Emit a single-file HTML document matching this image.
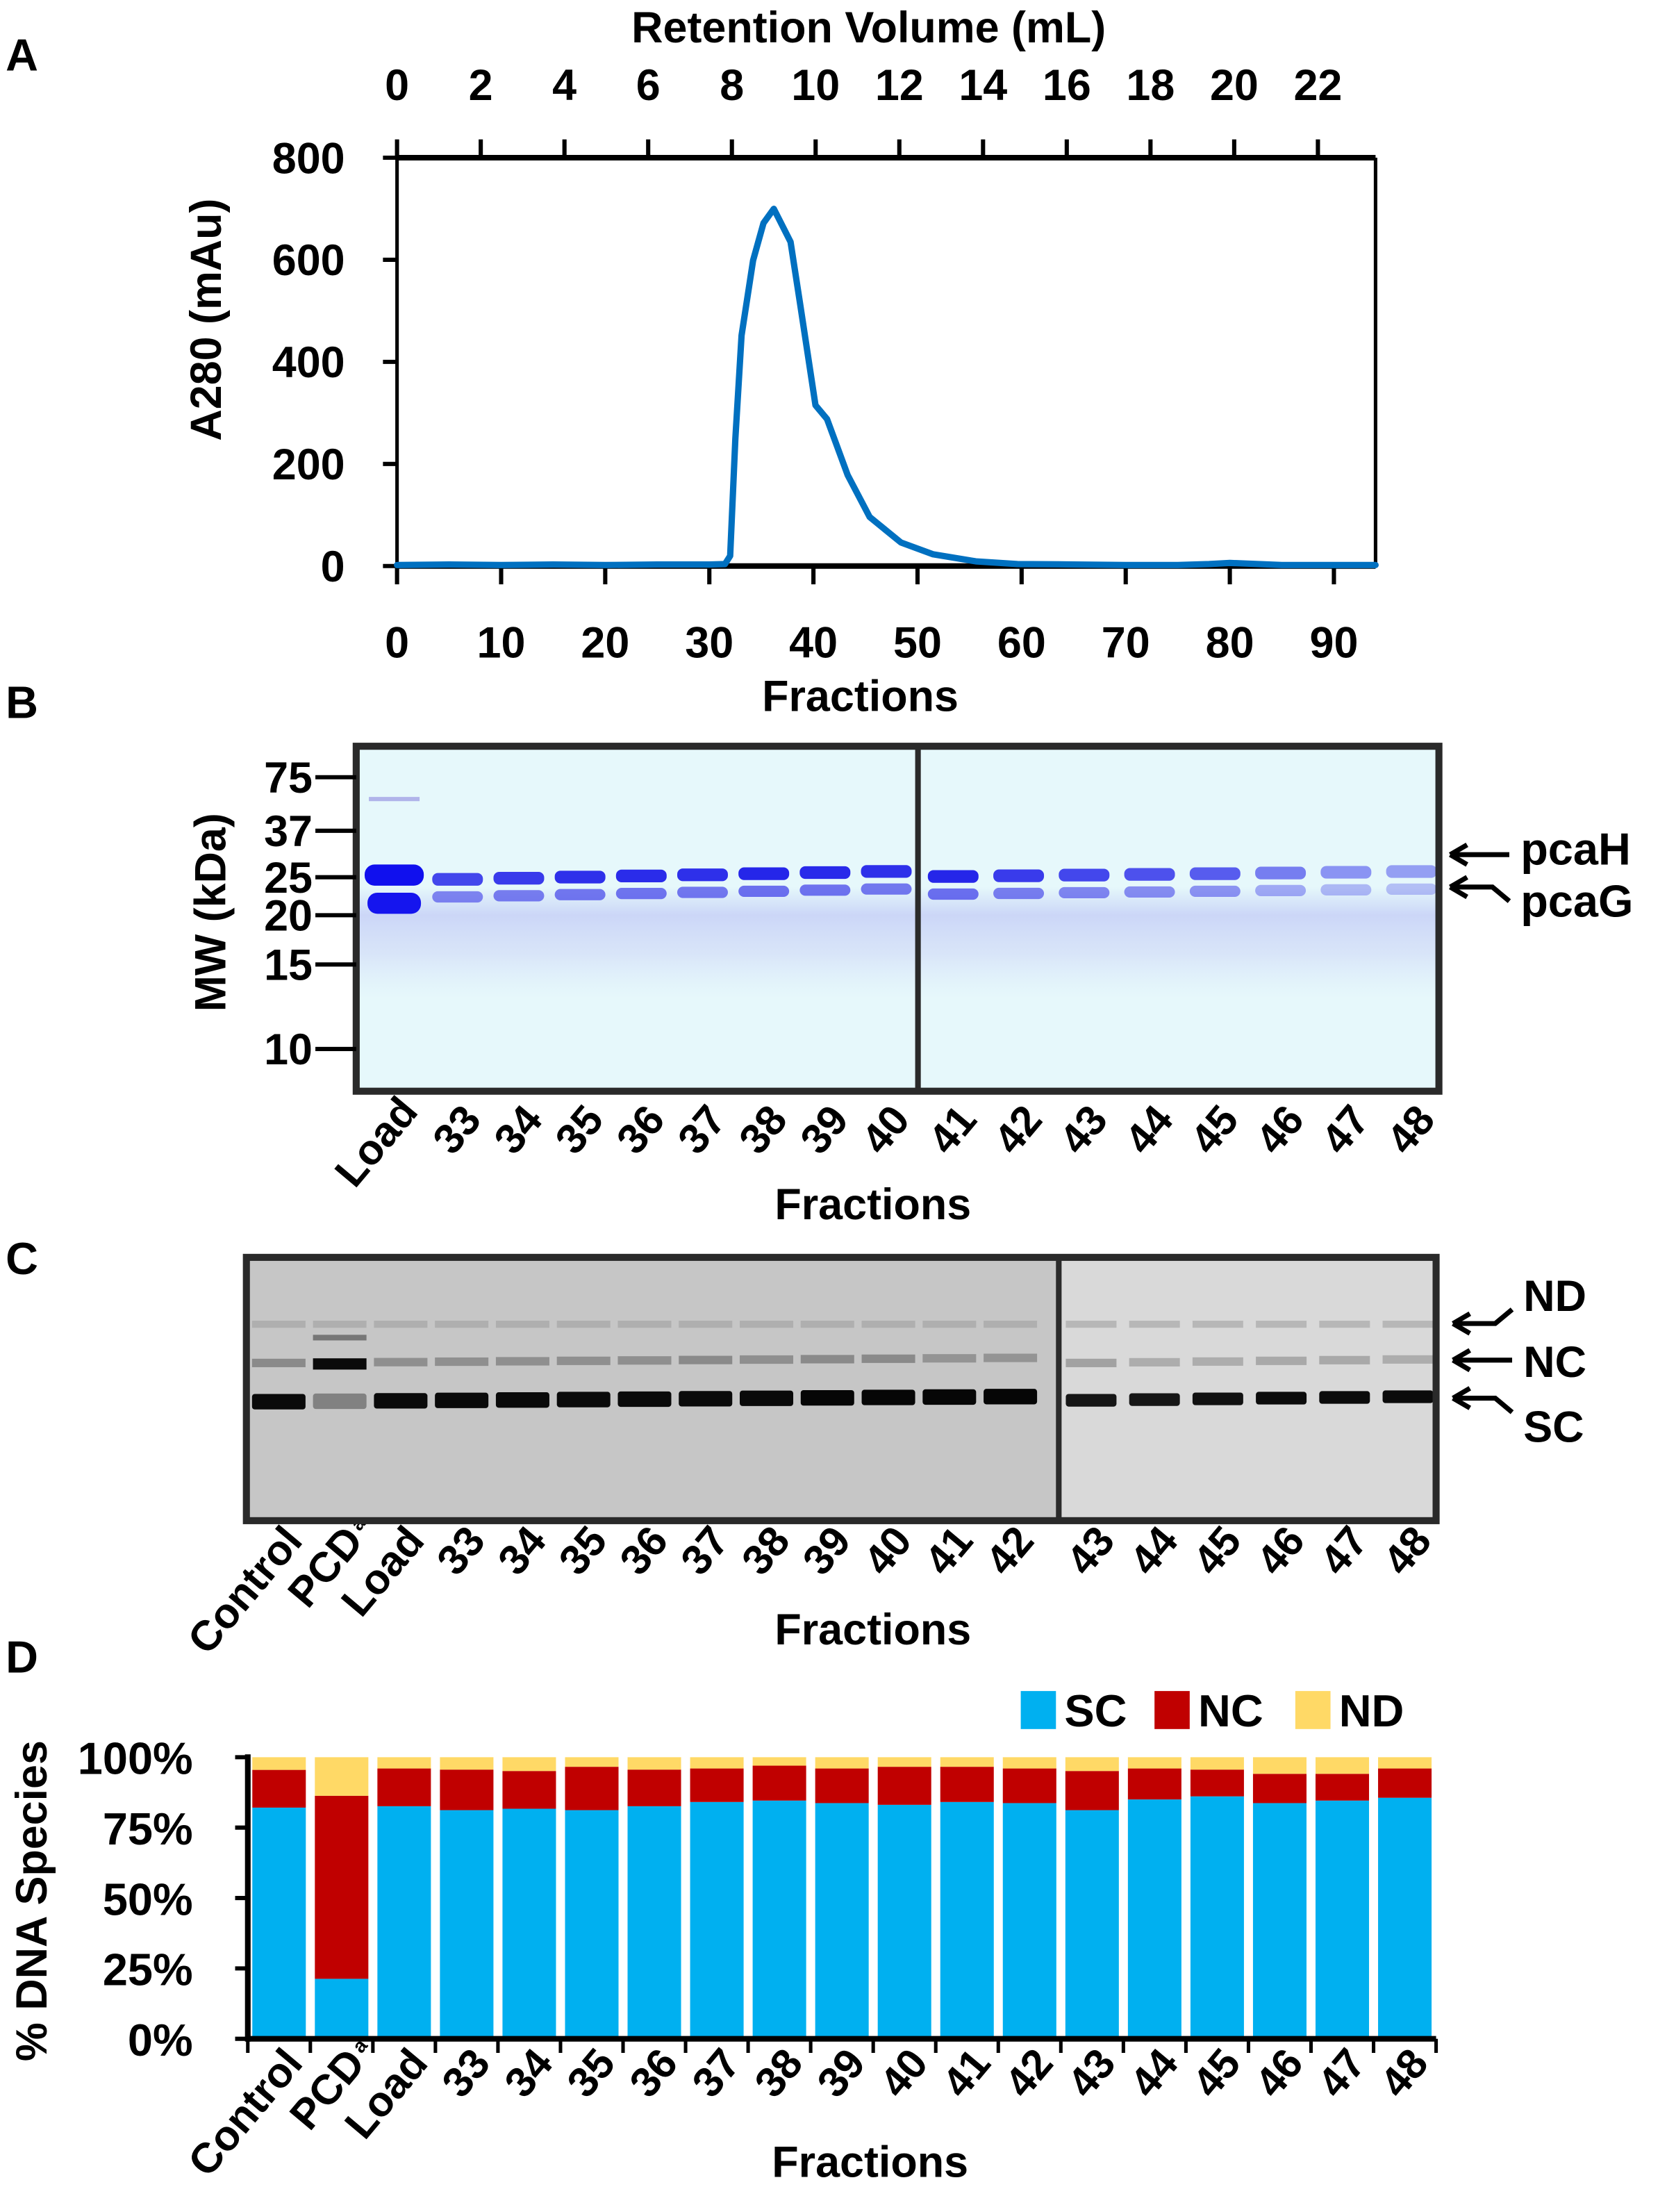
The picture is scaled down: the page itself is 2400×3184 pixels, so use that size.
<!DOCTYPE html>
<html><head><meta charset="utf-8"><style>
html,body{margin:0;padding:0;background:#fff}
svg{display:block}
text{font-family:"Liberation Sans Narrow","Liberation Sans",sans-serif;font-weight:bold;fill:#000}
</style></head><body>
<svg id="fig" width="2400" height="3184" viewBox="0 0 1184 1571" preserveAspectRatio="none" xmlns="http://www.w3.org/2000/svg">
<defs>
<linearGradient id="smearB" x1="0" y1="0" x2="0" y2="1">
<stop offset="0" stop-color="#9094f0" stop-opacity="0.0"/><stop offset="0.25" stop-color="#9a98f0" stop-opacity="0.35"/><stop offset="0.6" stop-color="#b0acf2" stop-opacity="0.25"/><stop offset="1" stop-color="#c8d0f6" stop-opacity="0"/></linearGradient>
</defs>
<text x="4" y="50" font-size="32" style="font-family:'Liberation Sans',sans-serif">A</text>
<text x="4" y="510" font-size="32" style="font-family:'Liberation Sans',sans-serif">B</text>
<text x="4" y="905" font-size="32" style="font-family:'Liberation Sans',sans-serif">C</text>
<text x="4" y="1188" font-size="32" style="font-family:'Liberation Sans',sans-serif">D</text>
<g id="pA"></g>
<g id="pB"></g>
<g id="pC"></g>
<g id="pD"></g>
</svg>
<script>
// ===== Panel A data =====
const fracX = [0,5,10,15,20,25,30,31.5,32,32.5,33.1,34.2,35.2,36.2,37.8,38.7,40.2,41.3,43.3,45.4,48.4,51.5,55.6,59.6,65,70,75,78,80,85,90,94];
const a280 = [2,3,2,3,2,3,3,4,20,250,452,599,672,700,635,517,315,288,178,96,46,23,9,4,3,2,2,4,6,2,2,2];
const mlTicks = [0,2,4,6,8,10,12,14,16,18,20,22];
const fracTicks = [0,10,20,30,40,50,60,70,80,90];
const aYTicks = [0,200,400,600,800];
// ===== Panel D data =====
const dCats = ["Control","PCDa","Load","33","34","35","36","37","38","39","40","41","42","43","44","45","46","47","48"];
const scVals = [82.1,21.3,82.6,81.2,81.7,81.2,82.6,84.1,84.6,83.7,83.1,84.1,83.7,81.2,85.0,86.1,83.7,84.6,85.6];
const ncVals = [13.4,65.0,13.4,14.4,13.4,15.4,13.0,11.9,12.4,12.3,13.5,12.5,12.3,13.9,11.0,9.5,10.4,9.5,10.4];
const ndVals = [4.5,13.7,4.0,4.4,4.9,3.4,4.4,4.0,3.0,4.0,3.4,3.4,4.0,4.9,4.0,4.4,5.9,5.9,4.0];
const dTicks = ["0%","25%","50%","75%","100%"];
const dTickVals = [0,25,50,75,100];
// ===== Gel lane labels =====
const gelBLanes = ["Load","33","34","35","36","37","38","39","40","41","42","43","44","45","46","47","48"];
const gelBUpper = [1.0,0.8,0.85,0.9,0.92,0.9,0.95,0.93,0.9,0.95,0.85,0.8,0.75,0.7,0.55,0.45,0.4];
const gelCLanes = ["Control","PCDa","Load","33","34","35","36","37","38","39","40","41","42","43","44","45","46","47","48"];
const gelCSC = [0.95,0.35,0.95,0.95,0.95,0.95,0.95,0.95,0.95,0.97,0.97,0.97,0.97,0.9,0.9,0.92,0.95,0.95,0.95];
const gelCNC = [0.3,0.95,0.28,0.28,0.28,0.28,0.28,0.3,0.28,0.3,0.3,0.25,0.25,0.25,0.2,0.2,0.22,0.22,0.2];

const NS="http://www.w3.org/2000/svg";
function mk(parent, tag, attrs, txt){const e=document.createElementNS(NS,tag);for(const k in attrs)e.setAttribute(k,attrs[k]);if(txt!==undefined)e.textContent=txt;parent.appendChild(e);return e;}

// ===== Panel A =====
(function(){
const g=document.getElementById('pA');
const L=282,R=977,T=112,B=402;
const xF=f=>L+(R-L)*f/94;
const xM=m=>L+m*29.73;
const y=v=>B-(B-T)*v/800;
let t=mk(g,'text',{x:617,y:30,'font-size':31,'text-anchor':'middle'},'Retention Volume (mL)');

mlTicks.forEach(m=>{
 let tk=mk(g,'line',{x1:xM(m),x2:xM(m),y1:T-13,y2:T,stroke:'#000','stroke-width':3});
 
 let l=mk(g,'text',{x:xM(m),y:71,'font-size':31,'text-anchor':'middle'},String(m));
 
});
fracTicks.forEach(f=>{
 let tk=mk(g,'line',{x1:xF(f),x2:xF(f),y1:B,y2:B+13,stroke:'#000','stroke-width':3});
 
 let l=mk(g,'text',{x:xF(f),y:467,'font-size':31,'text-anchor':'middle'},String(f));
 
});
aYTicks.forEach(v=>{
 let tk=mk(g,'line',{x1:L-10,x2:L,y1:y(v),y2:y(v),stroke:'#000','stroke-width':3});
 
 let l=mk(g,'text',{x:245,y:y(v)+11,'font-size':31,'text-anchor':'end'},String(v));
 
});
let yt=mk(g,'text',{x:0,y:0,'font-size':31,'text-anchor':'middle',transform:'translate(157,227) rotate(-90)',style:"font-family:'Liberation Sans',sans-serif"},'A280 (mAu)');

let xt=mk(g,'text',{x:611,y:505,'font-size':31,'text-anchor':'middle'},'Fractions');

let f1=mk(g,'line',{x1:L,x2:R,y1:T,y2:T,stroke:'#000','stroke-width':4});
let f2=mk(g,'line',{x1:L,x2:R,y1:B,y2:B,stroke:'#000','stroke-width':4});
let f3=mk(g,'line',{x1:L,x2:L,y1:T,y2:B,stroke:'#000','stroke-width':2.5});
let f4=mk(g,'line',{x1:R,x2:R,y1:T,y2:B,stroke:'#000','stroke-width':2.5});
let pts=fracX.map((f,i)=>xF(f).toFixed(1)+','+y(a280[i]).toFixed(1)).join(' ');
let pl=mk(g,'polyline',{points:pts,fill:'none',stroke:'#0070c0','stroke-width':4.5,'stroke-linejoin':'round','stroke-linecap':'round'});

})();

// ===== Panel B =====
(function(){
const g=document.getElementById('pB');
const L=253,R=1022,T=530,B=775,D=652;
let bg=mk(g,'rect',{x:L,y:T,width:R-L,height:B-T,fill:'#e6f8fb'});
let sm=mk(g,'rect',{x:L,y:630,width:R-L,height:80,fill:'url(#smearB)'});
const lx=i=> i<9 ? (i===0?280:325+(i-1)*43.5) : 677+(i-9)*46.5;
gelBLanes.forEach((n,i)=>{
 const a=gelBUpper[i], x=lx(i);
 const shift = i<9 ? (i===0?0:-(i-1)*0.8) : -(i-9)*0.5-2;
 const w = i===0?40:36;
 if(i===0){
  let b1=mk(g,'rect',{x:x-21,y:614,width:42,height:15,rx:7,fill:'#1010ee'});
  let b2=mk(g,'rect',{x:x-19,y:634,width:38,height:15,rx:7,fill:'#1515ee'});
  let b3=mk(g,'rect',{x:x-18,y:566,width:36,height:3,fill:'#b0b4ea'});
 } else {
  let b1=mk(g,'rect',{x:x-w/2,y:620+shift,width:w,height:9,rx:4,fill:'#1a1ae8','fill-opacity':a});
  let b2=mk(g,'rect',{x:x-w/2,y:633+shift,width:w,height:8,rx:4,fill:'#3a3ae8','fill-opacity':a*0.75});
 }
 let l=mk(g,'text',{x:0,y:0,'font-size':30,'text-anchor':'end',transform:`translate(${x+18},${i===0?790:796}) rotate(-50)`,style:"font-family:'Liberation Sans',sans-serif"},n);
 
});
let fr=mk(g,'rect',{x:L,y:T,width:R-L,height:B-T,fill:'none',stroke:'#2a2a2a','stroke-width':5});
let dv=mk(g,'line',{x1:D,x2:D,y1:T,y2:B,stroke:'#2a2a2a','stroke-width':4});
[["75",552],["37",590],["25",623],["20",650],["15",685],["10",745]].forEach(([t,yy])=>{
 let tk=mk(g,'line',{x1:224,x2:253,y1:yy,y2:yy,stroke:'#000','stroke-width':3});
 let l=mk(g,'text',{x:222,y:yy+11,'font-size':31,'text-anchor':'end'},t);
});
let yt=mk(g,'text',{x:0,y:0,'font-size':31,'text-anchor':'middle',transform:'translate(160,648) rotate(-90)',style:"font-family:'Liberation Sans',sans-serif"},'MW (kDa)');

let xt=mk(g,'text',{x:620,y:866,'font-size':31,'text-anchor':'middle'},'Fractions');

let a1=mk(g,'path',{d:'M1030,607 L1072,607 M1030,607 l12,-7 M1030,607 l12,7',stroke:'#000','stroke-width':3.5,fill:'none'});
let a2=mk(g,'path',{d:'M1030,630 L1060,630 L1072,640 M1030,630 l12,-7 M1030,630 l12,7',stroke:'#000','stroke-width':3.5,fill:'none'});
let l1=mk(g,'text',{x:1080,y:614,'font-size':32},'pcaH');
let l2=mk(g,'text',{x:1080,y:651,'font-size':32},'pcaG');
})();

// ===== Panel C =====
(function(){
const g=document.getElementById('pC');
const L=175,R=1020,T=893,B=1080,D=752;
let bg1=mk(g,'rect',{x:L,y:T,width:D-L,height:B-T,fill:'#c6c6c6'});
let bg2=mk(g,'rect',{x:D,y:T,width:R-D,height:B-T,fill:'#d9d9d9'});
const lx=i=> i<13 ? 198+i*43.3 : 775+(i-13)*45;
gelCLanes.forEach((n,i)=>{
 const x=lx(i), w=i<13?38:36;
 const sh = i<13 ? -i*0.3 : -(i-13)*0.5;
 let nd=mk(g,'rect',{x:x-w/2,y:938,width:w,height:5,fill:'#a0a0a0','fill-opacity':0.6});
 if(i===1){let e=mk(g,'rect',{x:x-w/2,y:948,width:w,height:4,fill:'#777'});}
 const nc=gelCNC[i];
 let ncb=mk(g,'rect',{x:x-w/2,y:965+sh,width:w,height:i===1?8:6,fill:'#000','fill-opacity':nc});
 let scb=mk(g,'rect',{x:x-w/2,y:990+sh,width:w,height:i<13?11:9,rx:2,fill:'#000','fill-opacity':gelCSC[i]});
 const lab=n==="PCDa"?"PCD":n;
 let l=mk(g,'text',{x:0,y:0,'font-size':30,'text-anchor':'end',transform:`translate(${x+18},${1095}) rotate(-50)`,style:"font-family:'Liberation Sans',sans-serif"},lab);
 
 if(n==="PCDa"){let s=mk(g,'text',{x:0,y:0,'font-size':14,transform:`translate(${x+14},${1088}) rotate(-50)`,style:"font-family:'Liberation Sans',sans-serif"},'a');}
});
let fr=mk(g,'rect',{x:L,y:T,width:R-L,height:B-T,fill:'none',stroke:'#2a2a2a','stroke-width':5});
let dv=mk(g,'line',{x1:D,x2:D,y1:T,y2:B,stroke:'#2a2a2a','stroke-width':4});
let xt=mk(g,'text',{x:620,y:1168,'font-size':31,'text-anchor':'middle'},'Fractions');

let a1=mk(g,'path',{d:'M1032,940 L1062,940 L1074,930 M1032,940 l12,-7 M1032,940 l12,7',stroke:'#000','stroke-width':3.5,fill:'none'});
let a2=mk(g,'path',{d:'M1032,966 L1074,966 M1032,966 l12,-7 M1032,966 l12,7',stroke:'#000','stroke-width':3.5,fill:'none'});
let a3=mk(g,'path',{d:'M1032,993 L1062,993 L1074,1003 M1032,993 l12,-7 M1032,993 l12,7',stroke:'#000','stroke-width':3.5,fill:'none'});
let l1=mk(g,'text',{x:1082,y:931,'font-size':31},'ND');
let l2=mk(g,'text',{x:1082,y:978,'font-size':31},'NC');
let l3=mk(g,'text',{x:1082,y:1024,'font-size':31},'SC');
})();

// ===== Panel D =====
(function(){
const g=document.getElementById('pD');
const L=176,R=1020,T=1248,B=1448;
const n=dCats.length, step=(R-L)/n, bw=38;
const y=v=>B-(B-T)*v/100;
const xB=i=>L+step*i+(step-bw)/2;
dCats.forEach((c,i)=>{
 const sc=scVals[i], nc=ncVals[i], nd=ndVals[i];
 let r1=mk(g,'rect',{x:xB(i),y:y(sc),width:bw,height:y(0)-y(sc),fill:'#00b0f0'});
 
 let r2=mk(g,'rect',{x:xB(i),y:y(sc+nc),width:bw,height:y(sc)-y(sc+nc),fill:'#c00000'});
 
 let r3=mk(g,'rect',{x:xB(i),y:y(sc+nc+nd),width:bw,height:y(sc+nc)-y(sc+nc+nd),fill:'#ffd966'});
 
 const lab=c==="PCDa"?"PCD":c;
 const cx=xB(i)+bw/2;
 let l=mk(g,'text',{x:0,y:0,'font-size':30,'text-anchor':'end',transform:`translate(${cx+18},${1466}) rotate(-50)`,style:"font-family:'Liberation Sans',sans-serif"},lab);
 
 if(c==="PCDa"){let s=mk(g,'text',{x:0,y:0,'font-size':14,transform:`translate(${cx+14},${1459}) rotate(-50)`,style:"font-family:'Liberation Sans',sans-serif"},'a');}
});
for(let i=0;i<=n;i++){
 let tk=mk(g,'line',{x1:L+step*i,x2:L+step*i,y1:B,y2:B+10,stroke:'#000','stroke-width':2.5});
 
}
dTickVals.forEach((v,i)=>{
 let tk=mk(g,'line',{x1:L-9,x2:L,y1:y(v),y2:y(v),stroke:'#000','stroke-width':3});
 
 let l=mk(g,'text',{x:137,y:y(v)+12,'font-size':32,'text-anchor':'end'},dTicks[i]);
 
});
let ax1=mk(g,'line',{x1:L,x2:L,y1:T-2,y2:B+2,stroke:'#000','stroke-width':4});
let ax2=mk(g,'line',{x1:L,x2:R,y1:B,y2:B,stroke:'#000','stroke-width':4});
let yt=mk(g,'text',{x:0,y:0,'font-size':31,'text-anchor':'middle',transform:'translate(33,1350) rotate(-90)',style:"font-family:'Liberation Sans',sans-serif"},'% DNA Species');

let xt=mk(g,'text',{x:618,y:1546,'font-size':31,'text-anchor':'middle'},'Fractions');

[["SC","#00b0f0",725],["NC","#c00000",820],["ND","#ffd966",920]].forEach(([t,c,x])=>{
 let s=mk(g,'rect',{x:x,y:1201,width:25,height:27,fill:c});
 let l=mk(g,'text',{x:x+31,y:1226,'font-size':32},t);
});
})();
</script>
</body></html>
